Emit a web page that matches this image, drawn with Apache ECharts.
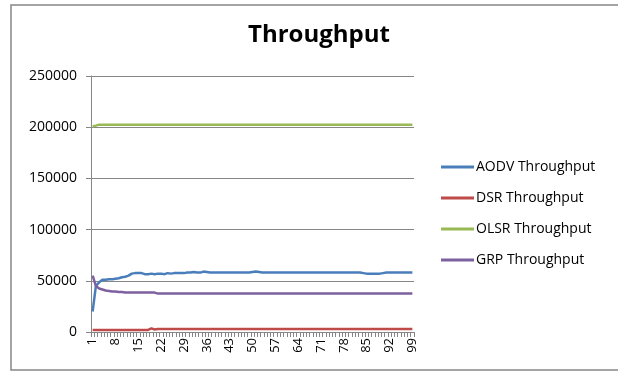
<!DOCTYPE html>
<html>
<head>
<meta charset="utf-8">
<script src="https://cdn.jsdelivr.net/npm/echarts@6/dist/echarts.min.js"></script>
<style>
  html, body { margin: 0; padding: 0; background: #fff; }
  #chart { width: 618px; height: 371px; }
</style>
</head>
<body>
<div id="chart"></div>
<script>
// ==================
// DATA
// ==================

const categories = [];
for (let i = 1; i <= 99; i++) categories.push(String(i));

const aodv = [
  20000, 45000, 48500, 51000, 51000, 51500, 51500, 52000, 52500, 53500,
  54000, 55000, 57000, 57500, 57500, 57500, 56500, 56500, 57000, 56500,
  57000, 57000, 56500, 57500, 57000, 57500, 57500, 57500, 57500, 58000,
  58000, 58500, 58000, 58000, 59000, 58500, 58000, 58000, 58000, 58000,
  58000, 58000, 58000, 58000, 58000, 58000, 58000, 58000, 58000, 58500,
  59000, 58500, 58000, 58000, 58000, 58000, 58000, 58000, 58000, 58000,
  58000, 58000, 58000, 58000, 58000, 58000, 58000, 58000, 58000, 58000,
  58000, 58000, 58000, 58000, 58000, 58000, 58000, 58000, 58000, 58000,
  58000, 58000, 58000, 57500, 57000, 57000, 57000, 57000, 57000, 57500,
  58000, 58000, 58000, 58000, 58000, 58000, 58000, 58000, 58000
];

const dsr = [
  2000, 2000, 2000, 2000, 2000, 2000, 2000, 2000, 2000, 2000,
  2000, 2000, 2000, 2000, 2000, 2000, 2000, 2000, 3500, 2500,
  3000, 3000, 3000, 3000, 3000, 3000, 3000, 3000, 3000, 3000,
  3000, 3000, 3000, 3000, 3000, 3000, 3000, 3000, 3000, 3000,
  3000, 3000, 3000, 3000, 3000, 3000, 3000, 3000, 3000, 3000,
  3000, 3000, 3000, 3000, 3000, 3000, 3000, 3000, 3000, 3000,
  3000, 3000, 3000, 3000, 3000, 3000, 3000, 3000, 3000, 3000,
  3000, 3000, 3000, 3000, 3000, 3000, 3000, 3000, 3000, 3000,
  3000, 3000, 3000, 3000, 3000, 3000, 3000, 3000, 3000, 3000,
  3000, 3000, 3000, 3000, 3000, 3000, 3000, 3000, 3000
];

const olsr = [
  201000, 201500, 202500, 202500, 202500, 202500, 202500, 202500, 202500, 202500,
  202500, 202500, 202500, 202500, 202500, 202500, 202500, 202500, 202500, 202500,
  202500, 202500, 202500, 202500, 202500, 202500, 202500, 202500, 202500, 202500,
  202500, 202500, 202500, 202500, 202500, 202500, 202500, 202500, 202500, 202500,
  202500, 202500, 202500, 202500, 202500, 202500, 202500, 202500, 202500, 202500,
  202500, 202500, 202500, 202500, 202500, 202500, 202500, 202500, 202500, 202500,
  202500, 202500, 202500, 202500, 202500, 202500, 202500, 202500, 202500, 202500,
  202500, 202500, 202500, 202500, 202500, 202500, 202500, 202500, 202500, 202500,
  202500, 202500, 202500, 202500, 202500, 202500, 202500, 202500, 202500, 202500,
  202500, 202500, 202500, 202500, 202500, 202500, 202500, 202500, 202500
];

const grp = [
  55000, 45000, 42500, 41500, 40500, 40000, 39500, 39500, 39000, 39000,
  38500, 38500, 38500, 38500, 38500, 38500, 38500, 38500, 38500, 38500,
  37500, 37500, 37500, 37500, 37500, 37500, 37500, 37500, 37500, 37500,
  37500, 37500, 37500, 37500, 37500, 37500, 37500, 37500, 37500, 37500,
  37500, 37500, 37500, 37500, 37500, 37500, 37500, 37500, 37500, 37500,
  37500, 37500, 37500, 37500, 37500, 37500, 37500, 37500, 37500, 37500,
  37500, 37500, 37500, 37500, 37500, 37500, 37500, 37500, 37500, 37500,
  37500, 37500, 37500, 37500, 37500, 37500, 37500, 37500, 37500, 37500,
  37500, 37500, 37500, 37500, 37500, 37500, 37500, 37500, 37500, 37500,
  37500, 37500, 37500, 37500, 37500, 37500, 37500, 37500, 37500
];

const seriesDefs = [
  { name: 'AODV Throughput', data: aodv, color: '#4a7ebb' },
  { name: 'DSR Throughput', data: dsr, color: '#be4b48' },
  { name: 'OLSR Throughput', data: olsr, color: '#98b954' },
  { name: 'GRP Throughput', data: grp, color: '#7d60a0' }
];

// ==================
// CHART
// ==================

const FONT = 'Open Sans, sans-serif';
const chart = echarts.init(document.getElementById('chart'));

const option = {
  animation: false,
  backgroundColor: '#fff',
  title: {
    text: 'Throughput',
    left: 314,
    top: 18,
    textAlign: 'center',
    textStyle: { fontFamily: FONT, fontSize: 24, fontWeight: 'bold', color: '#000' }
  },
  graphic: [{
    type: 'rect',
    shape: { x: 11, y: 5, width: 640, height: 365 },
    style: { fill: 'none', stroke: '#868686', lineWidth: 1.5 },
    silent: true
  }],
  legend: {
    orient: 'vertical',
    left: 436,
    top: 155,
    itemWidth: 33,
    itemHeight: 3,
    itemGap: 17,
    icon: 'rect',
    textStyle: { fontFamily: FONT, fontSize: 14, color: '#000', padding: [0, 0, 0, -3] },
    data: seriesDefs.map(s => s.name)
  },
  grid: { left: 91, right: 204, top: 76, bottom: 39, containLabel: false },
  xAxis: {
    type: 'category',
    data: categories,
    boundaryGap: true,
    axisLine: { lineStyle: { color: '#868686', width: 1 } },
    axisTick: { show: true, interval: 0, length: 5, lineStyle: { color: '#868686' } },
    axisLabel: {
      interval: 6,
      rotate: 90,
      margin: 6,
      fontFamily: FONT,
      fontSize: 13,
      color: '#000'
    },
    splitLine: { show: false }
  },
  yAxis: {
    type: 'value',
    min: 0,
    max: 250000,
    interval: 50000,
    axisLine: { show: true, lineStyle: { color: '#868686', width: 1 } },
    axisTick: { show: true, length: 5, lineStyle: { color: '#868686' } },
    axisLabel: {
      fontFamily: FONT,
      fontSize: 14,
      color: '#000',
      margin: 14,
      formatter: v => String(v)
    },
    splitLine: { show: true, lineStyle: { color: '#868686', width: 1 } }
  },
  series: seriesDefs.map(s => ({
    name: s.name,
    type: 'line',
    data: s.data,
    symbol: 'none',
    smooth: false,
    lineStyle: { color: s.color, width: 2.5 },
    itemStyle: { color: s.color }
  }))
};

chart.setOption(option);
</script>
</body>
</html>
